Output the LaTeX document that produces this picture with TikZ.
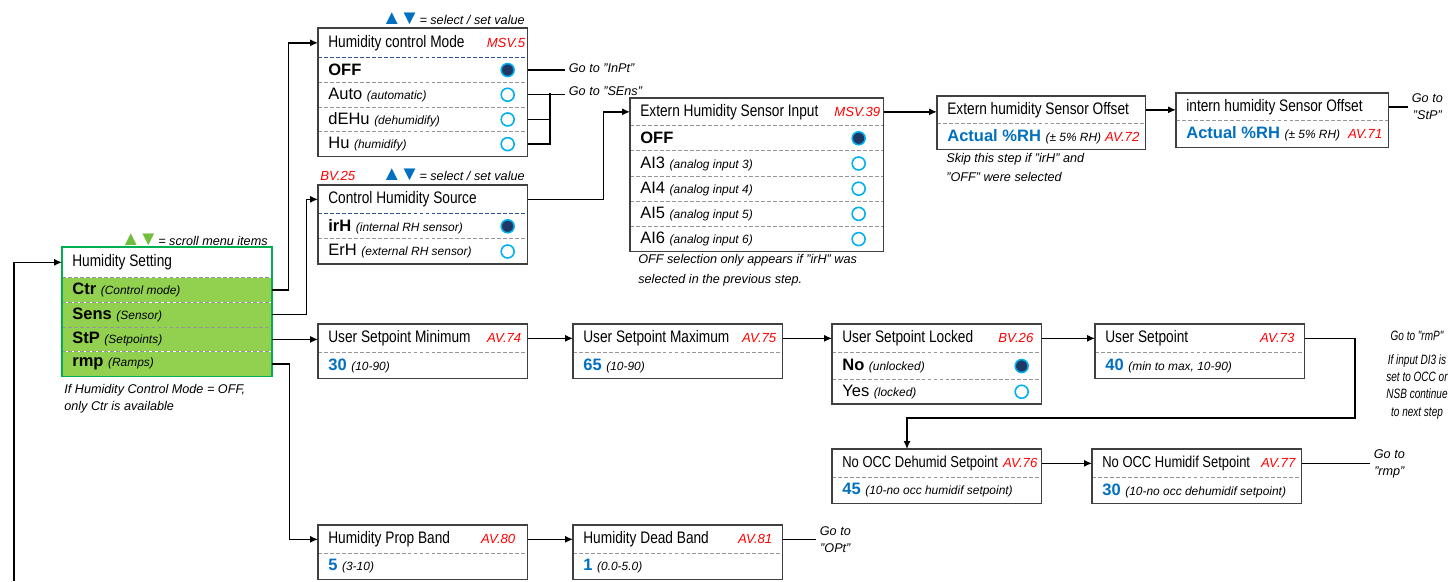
\documentclass[tikz,border=0pt]{standalone}
\usepackage{fontspec}
\setmainfont{Liberation Sans}
\newfontfamily\narrowfont[FakeStretch=0.82]{Liberation Sans}
\newfontfamily\sidenarrowfont[FakeStretch=0.74]{Liberation Sans}
\usetikzlibrary{calc,arrows.meta}

\definecolor{framegray}{RGB}{64,64,64}
\definecolor{divgray}{RGB}{150,150,150}
\definecolor{divblue}{RGB}{47,85,151}
\definecolor{menugreen}{RGB}{146,208,80}
\definecolor{edgegreen}{RGB}{0,176,80}
\definecolor{keygreen}{RGB}{112,190,60}
\definecolor{keyblue}{RGB}{0,112,192}
\definecolor{valblue}{RGB}{0,112,192}
\definecolor{ringblue}{RGB}{0,176,240}
\definecolor{dotnavy}{RGB}{31,56,100}
\definecolor{bvred}{RGB}{255,0,0}

\newcommand*{\titlefont}{\narrowfont\fontsize{9.5}{11}\selectfont}
\newcommand*{\rowfont}{\fontsize{9.4}{11}\selectfont}
\newcommand*{\notefont}{\fontsize{7.2}{9.8}\selectfont\itshape}
\newcommand*{\sidefont}{\sidenarrowfont\fontsize{7.7}{9.9}\selectfont\itshape}
\newcommand*{\hinttxt}[1]{{\fontsize{6.8}{8}\selectfont\itshape #1}}
\newcommand*{\valtxt}[1]{\textcolor{valblue}{\textbf{#1}}}
\newcommand*{\keys}[1]{{\upshape\fontsize{11.5}{9}\selectfont\textcolor{#1}{▲\kern-1.4pt▼}}}

\begin{document}
\begin{tikzpicture}
[
	x=0.02cm, y=-0.02cm,
	row/.style={anchor=north west, inner xsep=0.2cm, inner ysep=0pt, text width=3.78cm, align=flush left, minimum height=0.48cm, font=\rowfont},
	titlerow/.style={row, minimum height=0.56cm, font=\titlefont},
	tighttitle/.style={titlerow, font=\narrowfont\fontsize{9}{10}\selectfont},
	greenrow/.style={row, fill=menugreen},
	widerow/.style={row, text width=4.66cm, minimum height=0.49cm},
	boxframe/.style={draw=framegray, line width=0.8pt},
	greenframe/.style={draw=edgegreen, line width=1pt},
	divider/.style={draw=divgray, line width=0.5pt, dash pattern=on 2.2pt off 1.2pt},
	bluedivider/.style={draw=divblue, line width=0.6pt, dash pattern=on 2.2pt off 1.2pt},
	radioon/.style={circle, draw=ringblue, fill=dotnavy, line width=0.9pt, minimum size=0.26cm, inner sep=0pt},
	radiooff/.style={circle, draw=ringblue, fill=white, line width=0.9pt, minimum size=0.26cm, inner sep=0pt},
	reflabel/.style={anchor=east, inner sep=0pt, font=\fontsize{7.5}{9}\selectfont\itshape, text=bvred},
	note/.style={inner sep=0pt, font=\notefont, align=left},
	goto/.style={note, anchor=west, inner xsep=2pt, align=center},
	wire/.style={line width=0.75pt},
	link/.style={wire, -{Latex[length=4.5pt,width=4pt]}}
]

	\useasboundingbox (0,0) rectangle (1449,581);

	% main menu
	\node[titlerow, minimum height=0.6cm] (hsTitle) at (62,247) {Humidity Setting};
	\node[greenrow] (hsCtr) at (hsTitle.south west) {\textbf{Ctr} \hinttxt{(Control mode)}};
	\node[greenrow] (hsSens) at (hsCtr.south west) {\textbf{Sens} \hinttxt{(Sensor)}};
	\node[greenrow] (hsStP) at (hsSens.south west) {\textbf{StP} \hinttxt{(Setpoints)}};
	\node[greenrow] (hsRmp) at (hsStP.south west) {\textbf{rmp} \hinttxt{(Ramps)}};
	\draw[divider]
		(hsTitle.south west) -- (hsTitle.south east)
		(hsCtr.south west) -- (hsCtr.south east)
		(hsSens.south west) -- (hsSens.south east)
		(hsStP.south west) -- (hsStP.south east);
	\draw[greenframe] (hsTitle.north west) rectangle (hsRmp.south east);
	\node[note, anchor=south east] (hsKeys) at (268,246) {\keys{keygreen}= scroll menu items};
	\node[note, anchor=north west] (hsNote) at (64,384) {If Humidity Control Mode = OFF,\\only Ctr is available};

	% control mode
	\node[titlerow, minimum height=0.58cm] (hcmTitle) at (318,28) {Humidity control Mode};
	\node[row] (hcmOff) at (hcmTitle.south west) {\textbf{OFF}};
	\node[row] (hcmAuto) at (hcmOff.south west) {Auto \hinttxt{(automatic)}};
	\node[row] (hcmDehu) at (hcmAuto.south west) {dEHu \hinttxt{(dehumidify)}};
	\node[row] (hcmHu) at (hcmDehu.south west) {Hu \hinttxt{(humidify)}};
	\node[reflabel] (hcmRef) at ($(hcmTitle.east)+(-2,0)$) {MSV.5};
	\node[radioon] (hcmOffR) at ($(hcmOff.east)+(-20,0)$) {};
	\node[radiooff] (hcmAutoR) at ($(hcmAuto.east)+(-20,0)$) {};
	\node[radiooff] (hcmDehuR) at ($(hcmDehu.east)+(-20,0)$) {};
	\node[radiooff] (hcmHuR) at ($(hcmHu.east)+(-20,0)$) {};
	\draw[bluedivider] (hcmTitle.south west) -- (hcmTitle.south east);
	\draw[divider]
		(hcmOff.south west) -- (hcmOff.south east)
		(hcmAuto.south west) -- (hcmAuto.south east)
		(hcmDehu.south west) -- (hcmDehu.south east);
	\draw[boxframe] (hcmTitle.north west) rectangle (hcmHu.south east);
	\node[note, anchor=south east] (hcmKeys) at (525,25) {\keys{keyblue}= select / set value};

	\node[goto] (gotoInPt) at (565,68) {Go to "InPt"};
	\node[goto] (gotoSEns) at (565,91) {Go to "SEns"};
	\coordinate (hcmJoin) at (550,93);
	\draw[wire] (hcmOff.east) -- (hcmOff.east -| gotoInPt.west);
	\draw[wire] (hcmAuto.east) -- (hcmAuto.east -| gotoSEns.west);
	\draw[wire] (hcmDehu.east) -| (hcmJoin) (hcmHu.east) -| (hcmJoin);

	% sensor source
	\node[titlerow] (chsTitle) at (318,185) {Control Humidity Source};
	\node[row, minimum height=0.49cm] (chsIrH) at (chsTitle.south west) {\textbf{irH} \hinttxt{(internal RH sensor)}};
	\node[row, minimum height=0.49cm] (chsErH) at (chsIrH.south west) {ErH \hinttxt{(external RH sensor)}};
	\node[radioon] (chsIrHR) at ($(chsIrH.east)+(-20,0)$) {};
	\node[radiooff] (chsErHR) at ($(chsErH.east)+(-20,0)$) {};
	\draw[bluedivider] (chsTitle.south west) -- (chsTitle.south east);
	\draw[divider] (chsIrH.south west) -- (chsIrH.south east);
	\draw[boxframe] (chsTitle.north west) rectangle (chsErH.south east);
	\node[reflabel, anchor=south west] (chsRef) at (320,181) {BV.25};
	\node[note, anchor=south east] (chsKeys) at (525,181) {\keys{keyblue}= select / set value};

	% external sensor input
	\node[titlerow, text width=4.66cm, minimum height=0.54cm] (ehsTitle) at (630,98) {Extern Humidity Sensor Input};
	\node[widerow] (ehsOff) at (ehsTitle.south west) {\textbf{OFF}};
	\node[widerow] (ehsAiThree) at (ehsOff.south west) {AI3 \hinttxt{(analog input 3)}};
	\node[widerow] (ehsAiFour) at (ehsAiThree.south west) {AI4 \hinttxt{(analog input 4)}};
	\node[widerow] (ehsAiFive) at (ehsAiFour.south west) {AI5 \hinttxt{(analog input 5)}};
	\node[widerow] (ehsAiSix) at (ehsAiFive.south west) {AI6 \hinttxt{(analog input 6)}};
	\node[reflabel] (ehsRef) at ($(ehsTitle.east)+(-3,0)$) {MSV.39};
	\node[radioon] (ehsOffR) at ($(ehsOff.east)+(-25,0)$) {};
	\node[radiooff] (ehsAiThreeR) at ($(ehsAiThree.east)+(-25,0)$) {};
	\node[radiooff] (ehsAiFourR) at ($(ehsAiFour.east)+(-25,0)$) {};
	\node[radiooff] (ehsAiFiveR) at ($(ehsAiFive.east)+(-25,0)$) {};
	\node[radiooff] (ehsAiSixR) at ($(ehsAiSix.east)+(-25,0)$) {};
	\draw[divider]
		(ehsTitle.south west) -- (ehsTitle.south east)
		(ehsOff.south west) -- (ehsOff.south east)
		(ehsAiThree.south west) -- (ehsAiThree.south east)
		(ehsAiFour.south west) -- (ehsAiFour.south east)
		(ehsAiFive.south west) -- (ehsAiFive.south east);
	\draw[boxframe] (ehsTitle.north west) rectangle (ehsAiSix.south east);
	\node[note, anchor=north west] (ehsNote) at (638,254) {OFF selection only appears if "irH" was\\[1.4pt]selected in the previous step.};

	% sensor offsets
	\node[titlerow, text width=3.76cm, minimum height=0.54cm] (eofTitle) at (937,96) {Extern humidity Sensor Offset};
	\node[row, text width=3.76cm, minimum height=0.5cm] (eofVal) at (eofTitle.south west) {\valtxt{Actual \%RH} \hinttxt{(± 5\% RH)}};
	\node[reflabel] (eofRef) at ($(eofVal.east)+(-6,0)$) {AV.72};
	\draw[divider] (eofTitle.south west) -- (eofTitle.south east);
	\draw[boxframe] (eofTitle.north west) rectangle (eofVal.south east);
	\node[note, anchor=north west] (eofNote) at (946,153) {Skip this step if "irH" and\\[1pt]"OFF" were selected};

	\node[titlerow, text width=3.84cm, minimum height=0.54cm] (iofTitle) at (1176,93) {intern humidity Sensor Offset};
	\node[row, text width=3.84cm, minimum height=0.52cm] (iofVal) at (iofTitle.south west) {\valtxt{Actual \%RH} \hinttxt{(± 5\% RH)}};
	\node[reflabel] (iofRef) at ($(iofVal.east)+(-6,0)$) {AV.71};
	\draw[divider] (iofTitle.south west) -- (iofTitle.south east);
	\draw[boxframe] (iofTitle.north west) rectangle (iofVal.south east);
	\node[goto] (gotoStP) at (1408,107) {Go to\\"StP"};

	% setpoints
	\node[titlerow] (usMinTitle) at (318,324) {User Setpoint Minimum};
	\node[row, minimum height=0.5cm] (usMinVal) at (usMinTitle.south west) {\valtxt{30} \hinttxt{(10-90)}};
	\node[reflabel] (usMinRef) at ($(usMinTitle.east)+(-6,0)$) {AV.74};
	\draw[divider] (usMinTitle.south west) -- (usMinTitle.south east);
	\draw[boxframe] (usMinTitle.north west) rectangle (usMinVal.south east);

	\node[titlerow] (usMaxTitle) at (573,324) {User Setpoint Maximum};
	\node[row, minimum height=0.5cm] (usMaxVal) at (usMaxTitle.south west) {\valtxt{65} \hinttxt{(10-90)}};
	\node[reflabel] (usMaxRef) at ($(usMaxTitle.east)+(-6,0)$) {AV.75};
	\draw[divider] (usMaxTitle.south west) -- (usMaxTitle.south east);
	\draw[boxframe] (usMaxTitle.north west) rectangle (usMaxVal.south east);

	\node[titlerow] (usLockTitle) at (832,324) {User Setpoint Locked};
	\node[row, minimum height=0.52cm] (usLockNo) at (usLockTitle.south west) {\textbf{No} \hinttxt{(unlocked)}};
	\node[row] (usLockYes) at (usLockNo.south west) {Yes \hinttxt{(locked)}};
	\node[reflabel] (usLockRef) at ($(usLockTitle.east)+(-8,0)$) {BV.26};
	\node[radioon] (usLockNoR) at ($(usLockNo.east)+(-20,0)$) {};
	\node[radiooff] (usLockYesR) at ($(usLockYes.east)+(-20,0)$) {};
	\draw[divider]
		(usLockTitle.south west) -- (usLockTitle.south east)
		(usLockNo.south west) -- (usLockNo.south east);
	\draw[boxframe] (usLockTitle.north west) rectangle (usLockYes.south east);

	\node[titlerow] (usSetTitle) at (1095,324) {User Setpoint};
	\node[row, minimum height=0.5cm] (usSetVal) at (usSetTitle.south west) {\valtxt{40} \hinttxt{(min to max, 10-90)}};
	\node[reflabel] (usSetRef) at ($(usSetTitle.east)+(-10,0)$) {AV.73};
	\draw[divider] (usSetTitle.south west) -- (usSetTitle.south east);
	\draw[boxframe] (usSetTitle.north west) rectangle (usSetVal.south east);

	\node[note, font=\sidefont, align=center] (gotoRmPNote) at (1417,336) {Go to "rmP"};
	\node[note, font=\sidefont, align=center, anchor=north] (di3Note) at (1417,354) {If input DI3 is\\set to OCC or\\NSB continue\\to next step};

	% unoccupied setpoints
	\node[tighttitle] (ndhTitle) at (832,449) {No OCC Dehumid Setpoint};
	\node[row, minimum height=0.5cm] (ndhVal) at (ndhTitle.south west) {\valtxt{45} \hinttxt{(10-no occ humidif setpoint)}};
	\node[reflabel] (ndhRef) at ($(ndhTitle.east)+(-4,0)$) {AV.76};
	\draw[divider] (ndhTitle.south west) -- (ndhTitle.south east);
	\draw[boxframe] (ndhTitle.north west) rectangle (ndhVal.south east);

	\node[tighttitle] (nhmTitle) at (1092,449) {No OCC Humidif Setpoint};
	\node[row, minimum height=0.5cm] (nhmVal) at (nhmTitle.south west) {\valtxt{30} \hinttxt{(10-no occ dehumidif setpoint)}};
	\node[reflabel] (nhmRef) at ($(nhmTitle.east)+(-6,0)$) {AV.77};
	\draw[divider] (nhmTitle.south west) -- (nhmTitle.south east);
	\draw[boxframe] (nhmTitle.north west) rectangle (nhmVal.south east);
	\node[goto] (gotoRmp) at (1370,464) {Go to\\"rmp"};

	% ramps
	\node[titlerow] (hpbTitle) at (318,525) {Humidity Prop Band};
	\node[row, minimum height=0.5cm] (hpbVal) at (hpbTitle.south west) {\valtxt{5} \hinttxt{(3-10)}};
	\node[reflabel] (hpbRef) at ($(hpbTitle.east)+(-12,0)$) {AV.80};
	\draw[divider] (hpbTitle.south west) -- (hpbTitle.south east);
	\draw[boxframe] (hpbTitle.north west) rectangle (hpbVal.south east);

	\node[titlerow] (hdbTitle) at (573,525) {Humidity Dead Band};
	\node[row, minimum height=0.5cm] (hdbVal) at (hdbTitle.south west) {\valtxt{1} \hinttxt{(0.0-5.0)}};
	\node[reflabel] (hdbRef) at ($(hdbTitle.east)+(-10,0)$) {AV.81};
	\draw[divider] (hdbTitle.south west) -- (hdbTitle.south east);
	\draw[boxframe] (hdbTitle.north west) rectangle (hdbVal.south east);
	\node[goto] (gotoOPt) at (816,540) {Go to\\"OPt"};

	% connectors
	\coordinate (loopFoot) at (14,581);
	\coordinate (usTurn) at (1355,418);
	\draw[link] (loopFoot) |- (hsTitle.west);
	\draw[link] (hsCtr.east) -- ++(17,0) |- (hcmTitle.west);
	\draw[link] (hsSens.east) -- ++(35,0) |- (chsTitle.west);
	\draw[link] (hsStP.east) -- (hsStP.east -| usMinTitle.west);
	\draw[link] (hsRmp.east) -- ++(18,0) |- (hpbTitle.west);
	\draw[link] (chsTitle.east) -- ++(76,0) |- (ehsTitle.west);
	\draw[link] (ehsTitle.east) -- (ehsTitle.east -| eofTitle.west);
	\draw[link] (eofTitle.east) -- (eofTitle.east -| iofTitle.west);
	\draw[wire] (iofTitle.east) -- (iofTitle.east -| gotoStP.west);
	\draw[link] (usMinTitle.east) -- (usMaxTitle.west);
	\draw[link] (usMaxTitle.east) -- (usLockTitle.west);
	\draw[link] (usLockTitle.east) -- (usSetTitle.west);
	\draw[link] (usSetTitle.east) -| (usTurn) -| ($(ndhTitle.north west)+(75,0)$);
	\draw[link] (ndhTitle.east) -- (nhmTitle.west);
	\draw[wire] (nhmTitle.east) -- (nhmTitle.east -| gotoRmp.west);
	\draw[link] (hpbTitle.east) -- (hdbTitle.west);
	\draw[wire] (hdbTitle.east) -- (hdbTitle.east -| gotoOPt.west);

\end{tikzpicture}
\end{document}
